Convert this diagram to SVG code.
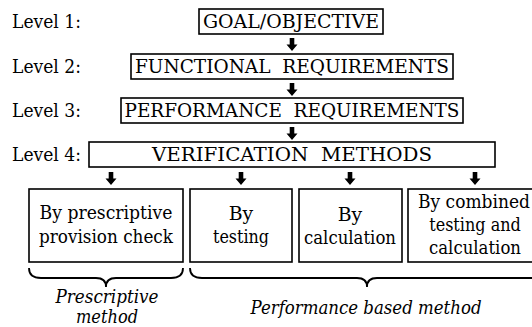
<svg xmlns="http://www.w3.org/2000/svg" width="532" height="327" viewBox="0 0 532 327">
<style>
.box{fill:#fff;stroke:#000;stroke-width:1.6}
.t{font-family:'DejaVu Serif','Liberation Serif',serif;font-size:19px;fill:#000}
.s{font-size:18.5px}
.c{text-anchor:middle}
.i{font-style:italic}
.arr{fill:#000}
.brace{fill:none;stroke:#000;stroke-width:1.8}
</style>
<defs>
<path id="ar" d="M-2.3,0 H2.3 V6.5 H5.5 L0,13 L-5.5,6.5 H-2.3 Z"/>
</defs>
<rect width="532" height="327" fill="#fff"/>
<g id="labels">
<text class="t" x="12" y="28" textLength="69" lengthAdjust="spacingAndGlyphs">Level 1:</text>
<text class="t" x="12" y="73" textLength="69" lengthAdjust="spacingAndGlyphs">Level 2:</text>
<text class="t" x="12" y="117" textLength="69" lengthAdjust="spacingAndGlyphs">Level 3:</text>
<text class="t" x="12" y="161" textLength="69" lengthAdjust="spacingAndGlyphs">Level 4:</text>
</g>
<g id="goal">
<rect class="box" x="199" y="9" width="184" height="25"/>
<text class="t c" x="291" y="28" textLength="176" lengthAdjust="spacingAndGlyphs">GOAL/OBJECTIVE</text>
</g>
<g id="functional">
<rect class="box" x="131" y="54" width="322" height="25"/>
<text class="t c" x="292" y="73" textLength="314" lengthAdjust="spacingAndGlyphs" xml:space="preserve">FUNCTIONAL  REQUIREMENTS</text>
</g>
<g id="performance">
<rect class="box" x="121" y="98" width="342" height="25"/>
<text class="t c" x="292" y="117" textLength="335" lengthAdjust="spacingAndGlyphs" xml:space="preserve">PERFORMANCE  REQUIREMENTS</text>
</g>
<g id="verification">
<rect class="box" x="89" y="142" width="406" height="25"/>
<text class="t c" x="292" y="161" textLength="280" lengthAdjust="spacingAndGlyphs" xml:space="preserve">VERIFICATION  METHODS</text>
</g>
<g id="prescriptive-check">
<rect class="box" x="29" y="189" width="154" height="73"/>
<text class="t s c" x="106" y="219" textLength="133" lengthAdjust="spacingAndGlyphs">By prescriptive</text>
<text class="t s c" x="106" y="243" textLength="134" lengthAdjust="spacingAndGlyphs">provision check</text>
</g>
<g id="testing">
<rect class="box" x="190" y="189" width="102" height="73"/>
<text class="t s c" x="241" y="220" textLength="24.5" lengthAdjust="spacingAndGlyphs">By</text>
<text class="t s c" x="241" y="243" textLength="56" lengthAdjust="spacingAndGlyphs">testing</text>
</g>
<g id="calculation">
<rect class="box" x="299" y="189" width="103" height="73"/>
<text class="t s c" x="350" y="221" textLength="24.5" lengthAdjust="spacingAndGlyphs">By</text>
<text class="t s c" x="350" y="244" textLength="92" lengthAdjust="spacingAndGlyphs">calculation</text>
</g>
<g id="combined">
<rect class="box" x="408" y="189" width="136" height="73"/>
<text class="t s c" x="474" y="208" textLength="112" lengthAdjust="spacingAndGlyphs">By combined</text>
<text class="t s c" x="475" y="231" textLength="91.6" lengthAdjust="spacingAndGlyphs">testing and</text>
<text class="t s c" x="475" y="254" textLength="92" lengthAdjust="spacingAndGlyphs">calculation</text>
</g>
<g id="connectors">
<use href="#ar" class="arr" x="292" y="38"/>
<use href="#ar" class="arr" x="292" y="83"/>
<use href="#ar" class="arr" x="292" y="127"/>
<use href="#ar" class="arr" x="111" y="172"/>
<use href="#ar" class="arr" x="241" y="172"/>
<use href="#ar" class="arr" x="350" y="172"/>
<use href="#ar" class="arr" x="475" y="172"/>
</g>
<g id="braces">
<path class="brace" d="M29,268 Q29,278 41,278 L96,278 Q106,278 106,287 Q106,278 116,278 L171,278 Q183,278 183,268"/>
<path class="brace" d="M190,268 Q190,278 202,278 L357,278 Q367,278 367,287 Q367,278 377,278 L532,278 Q544,278 544,268"/>
</g>
<g id="method-labels">
<text class="t s c i" x="107" y="303" textLength="103" lengthAdjust="spacingAndGlyphs">Prescriptive</text>
<text class="t s c i" x="107" y="323" textLength="62" lengthAdjust="spacingAndGlyphs">method</text>
<text class="t s c i" x="366" y="314" textLength="231" lengthAdjust="spacingAndGlyphs">Performance based method</text>
</g>
</svg>
